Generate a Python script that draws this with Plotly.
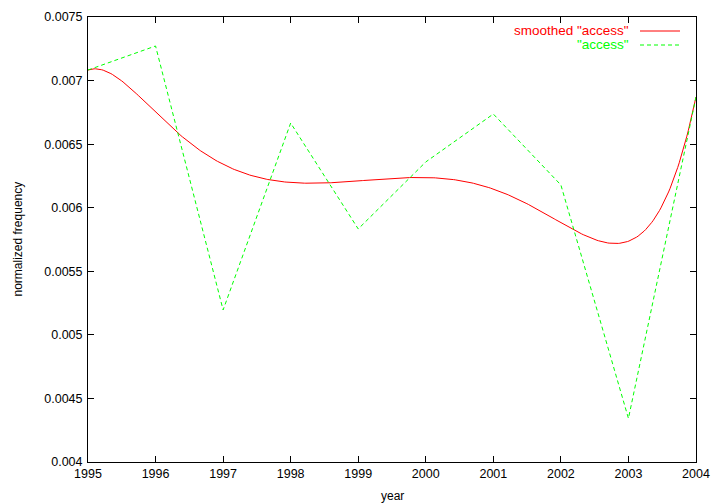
import numpy as np
from math import comb
import plotly.graph_objects as go

years = [1995, 1996, 1997, 1998, 1999, 2000, 2001, 2002, 2003, 2004]
access = [0.007083, 0.007272, 0.005196, 0.006666, 0.005833, 0.006360,
          0.006737, 0.006179, 0.004343, 0.006871]
y_ticks = [0.004, 0.0045, 0.005, 0.0055, 0.006, 0.0065, 0.007, 0.0075]
y_tick_labels = ["0.004", "0.0045", "0.005", "0.0055", "0.006", "0.0065", "0.007", "0.0075"]

# gnuplot-style "smooth bezier": Bezier curve using all data points as control points
n = len(years) - 1
t = np.linspace(0, 1, 400)
bx = np.zeros_like(t)
by = np.zeros_like(t)
for k in range(n + 1):
    w = comb(n, k) * t**k * (1 - t)**(n - k)
    bx += w * years[k]
    by += w * access[k]

FONT = "Liberation Sans, Arial, Helvetica, sans-serif"
W, H = 720, 504
L, R, T, B = 88, 696, 17, 462
PW, PH = R - L, B - T

fig = go.Figure()
fig.add_trace(go.Scatter(x=bx, y=by, mode="lines", name='smoothed "access"',
                         line=dict(color="#ff0000", width=1), showlegend=False))
fig.add_trace(go.Scatter(x=years, y=access, mode="lines", name='"access"',
                         line=dict(color="#00ff00", width=1, dash="4px,3px"), showlegend=False))

def px_x(x):
    return (x - L) / PW

def px_y(y):
    return (B - y) / PH

# legend (gnuplot style: text right-aligned, sample to the right)
legend_items = [('smoothed "access"', "#ff0000", "solid", 31),
                ('"access"', "#00ff00", "4px,3px", 45)]
for label, color, dash, ypix in legend_items:
    fig.add_annotation(x=px_x(631), xref="paper", y=px_y(ypix), yref="paper", text=label,
                       showarrow=False, xanchor="right", yanchor="middle",
                       font=dict(color=color, size=13.5, family=FONT))
    fig.add_shape(type="line", xref="paper", yref="paper",
                  x0=px_x(640), x1=px_x(680), y0=px_y(ypix), y1=px_y(ypix),
                  line=dict(color=color, width=1, dash=dash))

# axis titles
fig.add_annotation(x=0.5, xref="paper", y=px_y(496), yref="paper", text="year",
                   showarrow=False, xanchor="center", yanchor="middle",
                   font=dict(size=12, family=FONT, color="black"))
fig.add_annotation(x=px_x(17), xref="paper", y=0.5, yref="paper", text="normalized frequency",
                   showarrow=False, xanchor="center", yanchor="middle", textangle=-90,
                   font=dict(size=12, family=FONT, color="black"))

fig.update_layout(
    width=W, height=H,
    margin=dict(l=L, r=W - R, t=T, b=H - B, autoexpand=False),
    paper_bgcolor="white", plot_bgcolor="white",
    font=dict(family=FONT, size=12, color="black"),
)
fig.update_xaxes(range=[1995, 2004], tickvals=years, ticktext=[str(y) for y in years],
                 ticks="inside", ticklen=6, tickcolor="black", mirror="ticks",
                 showline=True, linecolor="black", linewidth=1, showgrid=False,
                 zeroline=False, automargin=False, tickfont=dict(size=12.5))
fig.update_yaxes(range=[0.004, 0.0075], tickvals=y_ticks, ticktext=y_tick_labels,
                 ticks="inside", ticklen=6, tickcolor="black", mirror="ticks",
                 showline=True, linecolor="black", linewidth=1, showgrid=False,
                 zeroline=False, automargin=False, tickfont=dict(size=12.5),
                 ticklabelstandoff=2)

fig.write_html("out.html", config={"displayModeBar": False},
               post_script="document.body.style.margin='0px';document.body.style.padding='0px';")
